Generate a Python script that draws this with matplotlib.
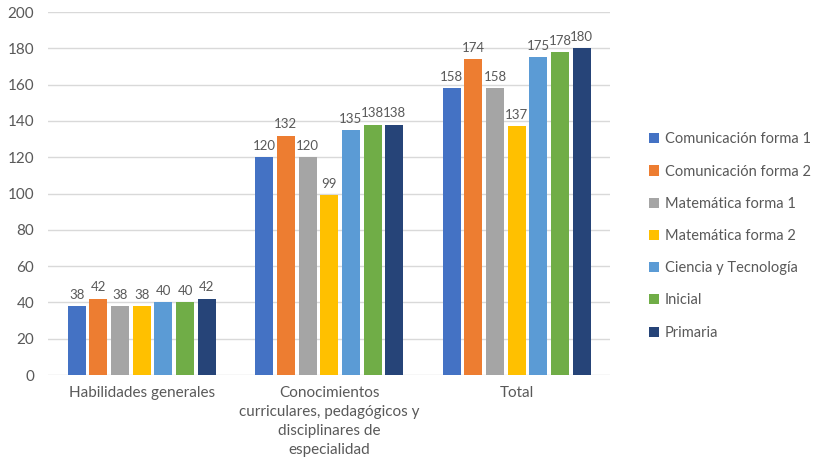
import numpy as np
import matplotlib
matplotlib.use("Agg")
import matplotlib.pyplot as plt

plt.rcParams['font.family'] = ['Lato', 'DejaVu Sans']

categories = ["Habilidades generales",
              "Conocimientos\ncurriculares, pedagógicos y\ndisciplinares de\nespecialidad",
              "Total"]
series = ["Comunicación forma 1", "Comunicación forma 2", "Matemática forma 1",
          "Matemática forma 2", "Ciencia y Tecnología", "Inicial", "Primaria"]
com1 = [38, 120, 158]
com2 = [42, 132, 174]
mat1 = [38, 120, 158]
mat2 = [38, 99, 137]
cyt = [40, 135, 175]
inicial = [40, 138, 178]
primaria = [42, 138, 180]
values = [com1, com2, mat1, mat2, cyt, inicial, primaria]
colors = ["#4472C4", "#ED7D31", "#A5A5A5", "#FFC000", "#5B9BD5", "#70AD47", "#264478"]

text_col = "#595959"

fig = plt.figure(figsize=(8.2, 4.67), dpi=100)
ax = fig.add_axes([0.0585, 0.197, 0.686, 0.777])

x = np.arange(len(categories))
n = len(series)
group_w = 0.81
slot = group_w / n
for i, (name, vals, c) in enumerate(zip(series, values, colors)):
    pos = x - group_w / 2 + slot * (i + 0.5)
    bars = ax.bar(pos, vals, width=slot * 0.83, color=c, label=name, zorder=3)
    ax.bar_label(bars, padding=4, fontsize=9.5, color=text_col)

ax.set_xlim(-0.5, 2.5)
ax.set_ylim(0, 200)
ax.set_yticks(range(0, 201, 20))
ax.set_xticks(x)
ax.set_xticklabels(categories, fontsize=11, color=text_col, linespacing=1.45)
ax.tick_params(axis='y', labelsize=11, colors=text_col, length=0, pad=10)
ax.tick_params(axis='x', length=0, pad=8)
ax.grid(axis='y', color="#D9D9D9", linewidth=1, zorder=0)
for s in ax.spines.values():
    s.set_visible(False)

ax.legend(loc='center left', bbox_to_anchor=(1.045, 0.383), frameon=False,
          fontsize=10.5, labelcolor=text_col, handlelength=0.7, handleheight=0.7,
          handletextpad=0.4, labelspacing=1.25)

fig.savefig("out.png", dpi=100)
